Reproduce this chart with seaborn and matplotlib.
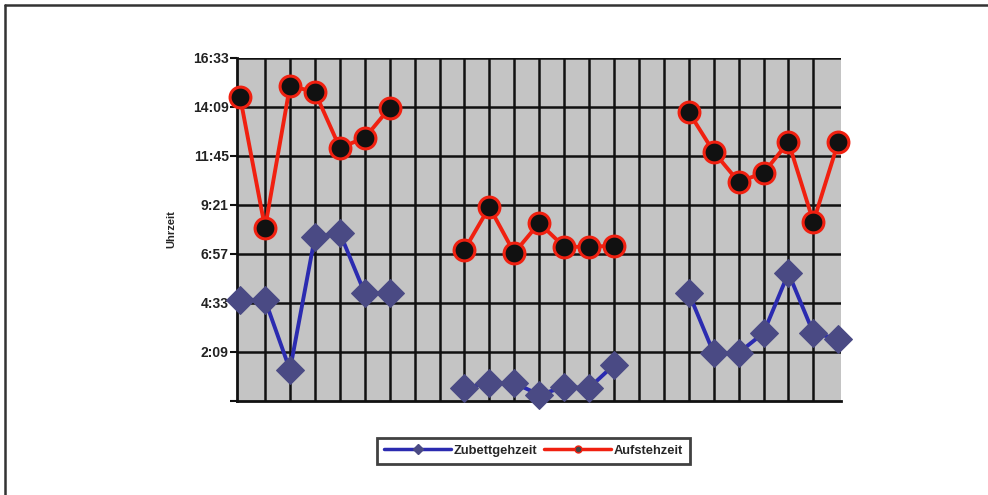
import matplotlib
matplotlib.use("Agg")
import matplotlib.pyplot as plt
import seaborn as sns
import pandas as pd
import numpy as np
from matplotlib.lines import Line2D

# Data (minutes since midnight), three blocks of 7 days with 2-day gaps
day_groups = [list(range(0, 7)), list(range(9, 16)), list(range(18, 25))]
zubett = [[282, 282, 76, 467, 479, 302, 302],
          [23, 38, 38, 3, 26, 23, 91],
          [302, 126, 126, 185, 361, 185, 167]]
aufsteh = [[878, 493, 911, 893, 729, 758, 846],
           [429, 555, 420, 508, 438, 438, 441],
           [834, 717, 629, 655, 746, 511, 746]]
tick_vals = [-15, 129, 273, 417, 561, 705, 849, 993]
tick_labels = ["", "2:09", "4:33", "6:57", "9:21", "11:45", "14:09", "16:33"]
series_names = ["Zubettgehzeit", "Aufstehzeit"]

sns.set_theme(style="white")
plt.rcParams['font.family'] = ['Liberation Sans', 'DejaVu Sans']

fig = plt.figure(figsize=(9.88, 4.95), dpi=100)
ax = fig.add_axes([0.240, 0.190, 0.611, 0.693])
ax.set_facecolor("#c4c4c4")

rows = []
for g, (days, zb, au) in enumerate(zip(day_groups, zubett, aufsteh)):
    for d, z, a in zip(days, zb, au):
        rows.append({"day": d, "group": g, "series": series_names[0], "value": z})
        rows.append({"day": d, "group": g, "series": series_names[1], "value": a})
df = pd.DataFrame(rows)

blue_line = "#2b2bb0"
blue_mark = "#4a4a84"
red = "#f02010"

for g in range(3):
    sub = df[(df.group == g) & (df.series == series_names[0])]
    sns.lineplot(data=sub, x="day", y="value", ax=ax, color=blue_line, lw=2.8,
                 marker="D", markersize=14, markerfacecolor=blue_mark,
                 markeredgecolor=blue_mark, zorder=4, legend=False, clip_on=False)
    sub = df[(df.group == g) & (df.series == series_names[1])]
    sns.lineplot(data=sub, x="day", y="value", ax=ax, color=red, lw=2.8,
                 marker="o", markersize=15, markerfacecolor="#111111",
                 markeredgecolor=red, markeredgewidth=2.2, zorder=5, legend=False,
                 clip_on=False)

ax.set_xlim(-0.12, 24.1)
ax.set_ylim(-15, 993)
ax.set_yticks(tick_vals)
ax.set_yticklabels(tick_labels)
for v in tick_vals[1:]:
    ax.axhline(v, color="#111111", lw=1.8, zorder=1)
for d in range(1, 24):
    ax.axvline(d, color="#111111", lw=1.8, zorder=1)
ax.set_xticks([])
ax.set_xlabel("")
ax.set_ylabel("Uhrzeit", fontsize=8, fontweight="bold", labelpad=12)
for s in ["top", "right"]:
    ax.spines[s].set_visible(False)
for s in ["left", "bottom"]:
    ax.spines[s].set_color("#111111")
    ax.spines[s].set_linewidth(2)
    ax.spines[s].set_zorder(3)
ax.tick_params(axis="y", which="both", left=True, length=5, width=1.5,
               color="#111111", labelsize=10, pad=1)
for t in ax.get_yticklabels():
    t.set_fontweight("bold")
    t.set_color("#222222")

handles = [Line2D([], [], color=blue_line, lw=2.5, marker="D", markersize=5,
                  markerfacecolor=blue_mark, markeredgecolor=blue_mark),
           Line2D([], [], color=red, lw=2.5, marker="o", markersize=5,
                  markerfacecolor="#444444", markeredgecolor=red)]
leg = fig.legend(handles, series_names, loc="center", bbox_to_anchor=(0.540, 0.089),
                 ncol=2, frameon=True, fancybox=False, fontsize=9.3,
                 handlelength=5.2, columnspacing=0.5, handletextpad=0.2,
                 borderpad=0.55, edgecolor="#111111")
leg.get_frame().set_linewidth(2)
for t in leg.get_texts():
    t.set_fontweight("bold")

# partial outer frame (left and top)
fig.add_artist(Line2D([0.0055, 0.0055], [0.0, 0.99], transform=fig.transFigure,
                      color="#333333", lw=1.8))
fig.add_artist(Line2D([0.0055, 1.0], [0.99, 0.99], transform=fig.transFigure,
                      color="#333333", lw=1.8))

fig.savefig("out.png", dpi=100)
